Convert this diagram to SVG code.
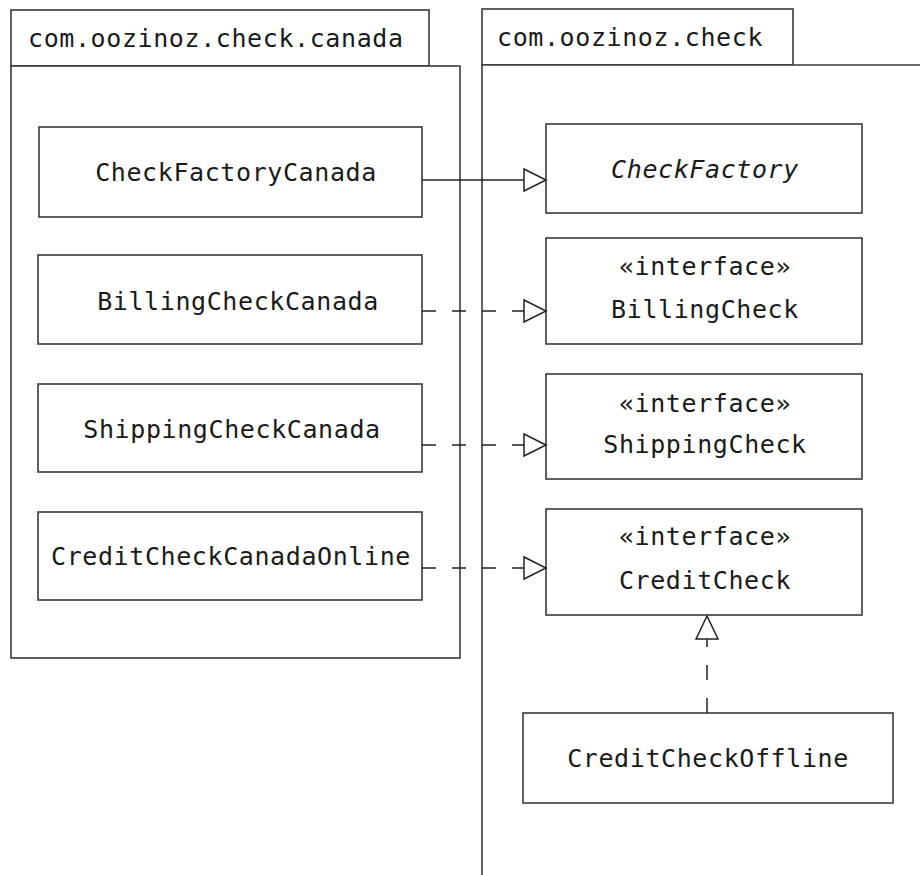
<svg xmlns="http://www.w3.org/2000/svg" width="920" height="875" viewBox="0 0 920 875">
<style>
.pkg{fill:#fff;stroke:#3a3a3a;stroke-width:1.6}
.box{fill:#fff;stroke:#3a3a3a;stroke-width:1.6}
.t{font-family:"DejaVu Sans Mono","Liberation Mono",monospace;font-size:25px;letter-spacing:0.6px;fill:#1a1a1a;text-anchor:middle}
.tl{font-family:"DejaVu Sans Mono","Liberation Mono",monospace;font-size:25px;letter-spacing:0.6px;fill:#1a1a1a}
.it{font-style:italic}
.solid{fill:none;stroke:#222;stroke-width:1.5}
.dash{fill:none;stroke:#222;stroke-width:1.5;stroke-dasharray:14 16}
.head{fill:#fff;stroke:#222;stroke-width:1.5}
</style>
<rect width="920" height="875" fill="#fff"/>
<g id="pkg-canada">
<rect class="pkg" x="11" y="10" width="418" height="56"/>
<rect class="pkg" x="11" y="66" width="449" height="592"/>
<text class="tl" x="28" y="47">com.oozinoz.check.canada</text>
</g>
<g id="pkg-check">
<rect class="pkg" x="482" y="9" width="311" height="56"/>
<path class="pkg" d="M921 65 H482 V876" fill="none"/>
<text class="tl" x="497" y="46">com.oozinoz.check</text>
</g>
<g id="CheckFactoryCanada">
<rect class="box" x="39" y="127" width="383" height="90"/>
<text class="t" x="236" y="181">CheckFactoryCanada</text>
</g>
<g id="BillingCheckCanada">
<rect class="box" x="38" y="255" width="384" height="89"/>
<text class="t" x="238" y="310">BillingCheckCanada</text>
</g>
<g id="ShippingCheckCanada">
<rect class="box" x="38" y="384" width="384" height="88"/>
<text class="t" x="232" y="438">ShippingCheckCanada</text>
</g>
<g id="CreditCheckCanadaOnline">
<rect class="box" x="38" y="512" width="384" height="88"/>
<text class="t" x="231" y="565">CreditCheckCanadaOnline</text>
</g>
<g id="CheckFactory">
<rect class="box" x="546" y="124" width="316" height="89"/>
<text class="t it" x="705" y="178">CheckFactory</text>
</g>
<g id="BillingCheck">
<rect class="box" x="546" y="238" width="316" height="106"/>
<text class="t" x="705" y="275">«interface»</text>
<text class="t" x="705" y="318">BillingCheck</text>
</g>
<g id="ShippingCheck">
<rect class="box" x="546" y="374" width="316" height="105"/>
<text class="t" x="705" y="412">«interface»</text>
<text class="t" x="705" y="453">ShippingCheck</text>
</g>
<g id="CreditCheck">
<rect class="box" x="546" y="509" width="316" height="106"/>
<text class="t" x="705" y="545">«interface»</text>
<text class="t" x="705" y="589">CreditCheck</text>
</g>
<g id="CreditCheckOffline">
<rect class="box" x="523" y="713" width="370" height="90"/>
<text class="t" x="708" y="767">CreditCheckOffline</text>
</g>
<g id="connectors">
<line class="solid" x1="422" y1="180" x2="524" y2="180"/>
<polygon class="head" points="524,169 546,180 524,191"/>
<line class="dash" x1="422" y1="311" x2="524" y2="311"/>
<polygon class="head" points="524,300 546,311 524,322"/>
<line class="dash" x1="422" y1="445" x2="524" y2="445"/>
<polygon class="head" points="524,434 546,445 524,456"/>
<line class="dash" x1="422" y1="568" x2="524" y2="568"/>
<polygon class="head" points="524,557 546,568 524,579"/>
<line class="dash" x1="707" y1="713" x2="707" y2="639" style="stroke-dasharray:15 18"/>
<polygon class="head" points="696,639 707,616 718,639"/>
</g>
</svg>
